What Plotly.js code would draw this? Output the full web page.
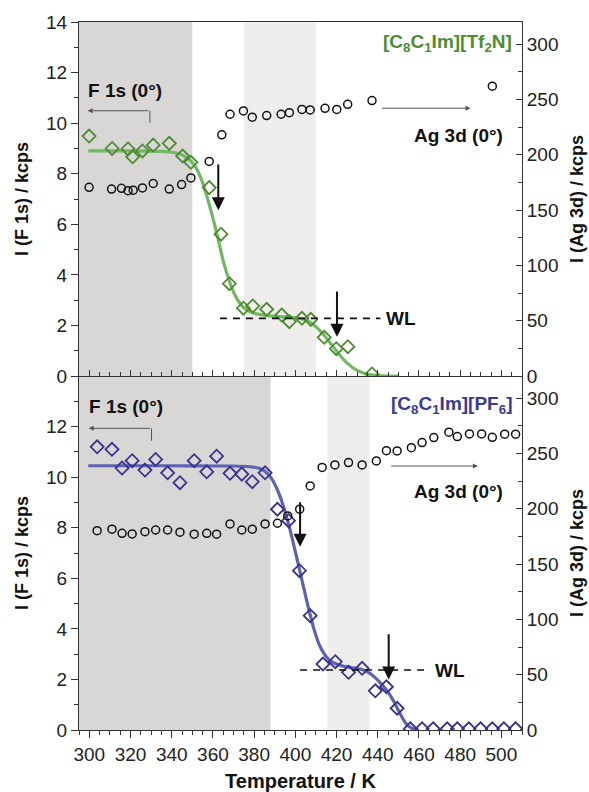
<!DOCTYPE html>
<html><head><meta charset="utf-8">
<script src="https://cdn.plot.ly/plotly-3.0.1.min.js"></script>
<style>body{margin:0;background:#fff}#chart{width:589px;height:792px}</style>
</head><body><div id="chart"></div>
<script>
// ---------- Top panel: [C8C1Im][Tf2N] ----------
const topF1sT   = [299.9,311.1,318.8,321.0,325.8,331.0,338.8,345.3,349.3,358.2,363.9,368.0,374.8,379.3,386.1,393.4,397.1,403.2,407.5,414.0,419.9,425.5,437.2];
const topF1s    = [9.49,9.00,8.98,8.67,8.90,9.13,9.20,8.70,8.45,7.45,5.61,3.65,2.68,2.77,2.64,2.41,2.15,2.28,2.24,1.53,1.08,1.16,0.08];
const topAgT    = [299.9,310.8,315.6,318.8,321.3,325.8,331.0,338.8,344.8,349.3,358.2,364.3,368.3,374.8,379.1,386.1,393.1,397.1,403.2,407.2,414.4,420.1,425.4,437.2,495.6];
const topAg     = [170.6,169.0,169.7,167.5,168.0,170.0,174.0,169.0,173.0,179.0,194.0,218.0,236.6,239.6,234.0,235.4,236.6,238.0,241.0,240.5,242.0,241.0,245.6,249.0,262.0];
const topFitT   = [299.5,320,335,340,344,347,350,353,356,359,362,365,368,371,375,380,386,393,400,405,409,413,417,421,425,430,435,440,445,450];
const topFit    = [8.90,8.90,8.88,8.85,8.78,8.65,8.45,8.05,7.40,6.55,5.60,4.55,3.75,3.15,2.70,2.48,2.40,2.35,2.30,2.22,2.02,1.70,1.30,0.88,0.52,0.22,0.07,0.02,0.00,0.00];
// ---------- Bottom panel: [C8C1Im][PF6] ----------
const botF1sT   = [303.8,311.0,315.9,320.8,327.0,332.2,338.0,344.0,350.9,357.0,361.8,368.3,374.0,379.1,385.3,391.3,396.7,402.0,407.2,413.4,419.4,425.8,432.4,438.8,444.2,449.4,455.8,461.5,466.9,473.7,478.6,484.2,489.9,495.6,501.2,506.9];
const botF1s    = [11.20,11.10,10.36,10.65,10.28,10.70,10.17,9.78,10.65,10.21,10.83,10.15,10.12,9.82,10.17,8.73,8.28,6.30,4.52,2.61,2.70,2.28,2.44,1.55,1.71,0.86,0.05,0.05,0.05,0.05,0.05,0.05,0.05,0.05,0.05,0.05];
const botAgT    = [303.8,311.0,315.9,320.8,327.0,332.2,338.0,344.0,350.9,357.0,361.8,368.3,374.0,379.1,385.3,391.3,396.3,402.1,407.2,413.0,419.2,425.8,432.4,439.3,444.2,449.4,456.3,461.5,467.2,474.5,478.6,484.5,490.4,495.6,501.6,506.9];
const botAg     = [180.2,181.5,177.8,177.2,179.3,180.8,180.8,178.8,177.0,177.8,177.0,186.3,180.8,181.5,186.3,186.9,193.5,199.6,220.6,237.4,239.6,241.7,239.6,243.2,252.5,252.3,255.2,259.8,264.3,269.2,265.2,267.6,267.6,264.6,267.4,267.4];
const botFitT   = [299.5,340,370,378,382,385,388,391,394,397,400,403,406,409,412,415,418,422,427,432,436,439,442,445,448,451,454,457,460];
const botFit    = [10.45,10.45,10.44,10.41,10.36,10.25,10.00,9.55,8.90,8.05,7.05,6.00,4.95,4.00,3.30,2.90,2.68,2.55,2.47,2.40,2.25,2.05,1.80,1.50,1.10,0.62,0.22,0.05,0.00];

const fam = 'Liberation Sans, Arial, sans-serif';
const green = '#4f8a33', greenFit = '#72b862', blue = '#3a3190', blueFit = '#5f62b0';
const axCol = '#333';
const tickFont = {family: fam, size: 19, color: '#222'};
const titleFont = {family: fam, size: 18, color: '#111'};
const R = [295, 510];

const traces = [
  {x: topFitT, y: topFit, xaxis: 'x2', yaxis: 'y3', mode: 'lines', line: {color: greenFit, width: 3.2, shape: 'spline', smoothing: 0.8}, hoverinfo: 'skip'},
  {x: topF1sT, y: topF1s, xaxis: 'x2', yaxis: 'y3', mode: 'markers', marker: {symbol: 'diamond-open', size: 10, color: green, line: {width: 1.8, color: green}}},
  {x: topAgT, y: topAg, xaxis: 'x2', yaxis: 'y4', mode: 'markers', marker: {symbol: 'circle-open', size: 8, color: '#111', line: {width: 1.5, color: '#111'}}},
  {x: botFitT, y: botFit, xaxis: 'x', yaxis: 'y', mode: 'lines', line: {color: blueFit, width: 3.2, shape: 'spline', smoothing: 0.8}, hoverinfo: 'skip'},
  {x: botF1sT, y: botF1s, xaxis: 'x', yaxis: 'y', mode: 'markers', marker: {symbol: 'diamond-open', size: 10, color: blue, line: {width: 1.8, color: blue}}},
  {x: botAgT, y: botAg, xaxis: 'x', yaxis: 'y2', mode: 'markers', marker: {symbol: 'circle-open', size: 8, color: '#111', line: {width: 1.5, color: '#111'}}}
];

const leftTicks = [0,2,4,6,8,10,12];
const leftMinor = [1,3,5,7,9,11,13];
const rightTicks = [0,50,100,150,200,250,300];
const rightMinor = [25,75,125,175,225,275];

function yLeft(domain, withTop) {
  return {domain: domain, range: [0, 14], tickmode: 'array', tickvals: withTop ? leftTicks.concat([14]) : leftTicks,
    ticks: 'outside', ticklen: 7, tickwidth: 1, tickcolor: axCol, showline: true, linecolor: axCol, linewidth: 1,
    minor: {tickmode: 'array', tickvals: leftMinor, ticks: 'outside', ticklen: 4, tickcolor: axCol},
    showgrid: false, zeroline: false, tickfont: tickFont, fixedrange: true,
    title: {text: '<b>I (F 1s) / kcps</b>', font: titleFont, standoff: 12}};
}
function yRight(over, anchor) {
  return {overlaying: over, anchor: anchor, side: 'right', range: [0, 320], tickmode: 'array', tickvals: rightTicks,
    ticks: 'inside', ticklen: 6, tickcolor: axCol, showline: true, linecolor: axCol, linewidth: 1,
    minor: {tickmode: 'array', tickvals: rightMinor, ticks: 'inside', ticklen: 4, tickcolor: axCol},
    showgrid: false, zeroline: false, tickfont: tickFont,
    title: {text: '<b>I (Ag 3d) / kcps</b>', font: titleFont, standoff: 12}};
}

const shapes = [
  {type: 'rect', xref: 'x2', yref: 'y3 domain', x0: 295, x1: 350, y0: 0, y1: 1, fillcolor: '#d9d7d6', line: {width: 0}, layer: 'below'},
  {type: 'rect', xref: 'x2', yref: 'y3 domain', x0: 375, x1: 410, y0: 0, y1: 1, fillcolor: '#f0eeec', line: {width: 0}, layer: 'below'},
  {type: 'rect', xref: 'x', yref: 'y domain', x0: 295, x1: 388, y0: 0, y1: 1, fillcolor: '#d9d7d6', line: {width: 0}, layer: 'below'},
  {type: 'rect', xref: 'x', yref: 'y domain', x0: 415.5, x1: 436, y0: 0, y1: 1, fillcolor: '#f0eeec', line: {width: 0}, layer: 'below'},
  // WL dashed lines
  {type: 'line', xref: 'x2', yref: 'y3', x0: 363.4, x1: 441.3, y0: 2.28, y1: 2.28, line: {color: '#111', width: 1.6, dash: '7px,6px'}},
  {type: 'line', xref: 'x', yref: 'y', x0: 402.3, x1: 464.7, y0: 2.37, y1: 2.37, line: {color: '#111', width: 1.6, dash: '7px,6px'}},
  // vertical stubs of F 1s arrows
  {type: 'line', xref: 'x2', yref: 'y3', x0: 329.4, x1: 329.4, y0: 10.49, y1: 10.02, line: {color: '#555', width: 1}},
  {type: 'line', xref: 'x', yref: 'y', x0: 330.2, x1: 330.2, y0: 11.93, y1: 11.44, line: {color: '#555', width: 1}}
];

function txt(x, y, xr, yr, text, anchor, color) {
  return {x: x, y: y, xref: xr, yref: yr, text: text, showarrow: false, xanchor: anchor, yanchor: 'middle',
    font: {family: fam, size: 19, color: color || '#111'}};
}
function arr(x, y, ax, ay, xr, yr, head, size, width, color) {
  return {x: x, y: y, ax: ax, ay: ay, xref: xr, yref: yr, axref: xr, ayref: yr, text: '', showarrow: true,
    arrowhead: head, arrowsize: size, arrowwidth: width, arrowcolor: color};
}

const annotations = [
  txt(298.6, 11.31, 'x2', 'y3', '<b>F 1s (0°)</b>', 'left'),
  txt(501.6, 9.53, 'x2', 'y3', '<b>Ag 3d (0°)</b>', 'right'),
  txt(506.0, 13.17, 'x2', 'y3', '<b>[C<sub>8</sub>C<sub>1</sub>Im][Tf<sub>2</sub>N]</b>', 'right', '#4e8b33'),
  txt(443.2, 2.28, 'x2', 'y3', '<b>WL</b>', 'left'),
  txt(298.9, 12.78, 'x', 'y', '<b>F 1s (0°)</b>', 'left'),
  txt(501.6, 9.45, 'x', 'y', '<b>Ag 3d (0°)</b>', 'right'),
  txt(506.2, 12.85, 'x', 'y', '<b>[C<sub>8</sub>C<sub>1</sub>Im][PF<sub>6</sub>]</b>', 'right', '#3b3a96'),
  txt(467.0, 2.37, 'x', 'y', '<b>WL</b>', 'left'),
  // thin arrows
  arr(299.2, 10.49, 329.4, 10.49, 'x2', 'y3', 2, 1, 1, '#555'),
  arr(485.0, 10.59, 441.3, 10.59, 'x2', 'y3', 2, 1, 1, '#555'),
  arr(299.7, 11.93, 330.2, 11.93, 'x', 'y', 2, 1, 1, '#555'),
  arr(488.6, 10.44, 445.8, 10.44, 'x', 'y', 2, 1, 1, '#555'),
  // bold down arrows
  arr(362.6, 6.56, 362.6, 8.42, 'x2', 'y3', 2, 1.3, 2, '#111'),
  arr(420.2, 1.55, 420.2, 3.40, 'x2', 'y3', 2, 1.3, 2, '#111'),
  arr(402.3, 7.25, 402.3, 9.07, 'x', 'y', 2, 1.3, 2, '#111'),
  arr(445.3, 2.00, 445.3, 3.85, 'x', 'y', 2, 1.3, 2, '#111')
];

const layout = {
  width: 589, height: 792, margin: {l: 79.3, r: 67.3, t: 22, b: 62},
  paper_bgcolor: '#fff', plot_bgcolor: '#fff', showlegend: false,
  xaxis: {anchor: 'y', range: R, tickmode: 'linear', tick0: 300, dtick: 20, ticks: 'outside', ticklen: 7, tickcolor: axCol,
    minor: {dtick: 5, tick0: 300, ticks: 'outside', ticklen: 4, tickcolor: axCol},
    showline: true, linecolor: axCol, linewidth: 1, showgrid: false, zeroline: false, tickfont: tickFont,
    title: {text: '<b>Temperature / K</b>', font: {family: fam, size: 20, color: '#111'}, standoff: 16}},
  xaxis3: {overlaying: 'x', anchor: 'y', side: 'top', range: R, tickmode: 'linear', tick0: 300, dtick: 20, ticks: 'inside', ticklen: 6, tickcolor: axCol,
    minor: {dtick: 5, tick0: 300, ticks: 'inside', ticklen: 4, tickcolor: axCol},
    showticklabels: false, showline: true, linecolor: axCol, showgrid: false, zeroline: false},
  xaxis2: {anchor: 'y3', range: R, tickmode: 'linear', tick0: 300, dtick: 20, ticks: 'inside', ticklen: 6, tickcolor: axCol,
    minor: {dtick: 5, tick0: 300, ticks: 'inside', ticklen: 4, tickcolor: axCol},
    showticklabels: false, showline: true, mirror: true, linecolor: axCol, linewidth: 1, showgrid: false, zeroline: false},
  yaxis: yLeft([0, 0.5], false),
  yaxis2: yRight('y', 'x'),
  yaxis3: yLeft([0.5, 1], true),
  yaxis4: yRight('y3', 'x2'),
  shapes: shapes,
  annotations: annotations
};

Plotly.newPlot('chart', traces, layout, {staticPlot: true});
</script></body></html>
